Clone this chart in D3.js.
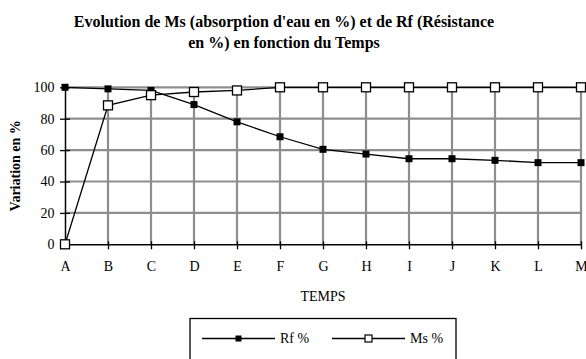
<!DOCTYPE html>
<html>
<head>
<meta charset="utf-8">
<script src="https://cdn.jsdelivr.net/npm/d3@7"></script>
<style>
  text { font-family: "Liberation Serif"; }
</style>
</head>
<body style="margin:0">
<svg id="s" width="586" height="359"></svg>
<script>
// Time steps and the two series (percent)
const categories = ["A", "B", "C", "D", "E", "F", "G", "H", "I", "J", "K", "L", "M"];
const rfValues = [100, 99, 98, 89, 78, 68.5, 60.5, 57.5, 54.5, 54.5, 53.5, 52, 52];
const msValues = [0, 88.5, 95, 97, 98, 100, 100, 100, 100, 100, 100, 100, 100];
const yTicks = [0, 20, 40, 60, 80, 100];

const titleLines = ["Evolution de Ms (absorption d'eau en %) et de Rf (Résistance", "en %) en fonction du Temps"];
const xTitle = "TEMPS";
const yTitle = "Variation en %";
const legendNames = ["Rf %", "Ms %"];

const svg = d3.select("#s");
const root = svg.append("g").attr("font-family", "Liberation Serif");

const plotLeft = 65, plotRight = 581, plotTop = 87.3, plotBottom = 244.3;

const x = d3.scalePoint().domain(categories).range([plotLeft, plotRight]);
const y = d3.scaleLinear().domain([0, 100]).range([plotBottom, plotTop]);

function label(sel) {
  return sel.attr("font-family", "Liberation Serif").style("font-family", '"Liberation Serif"');
}

// Title
titleLines.forEach((t, i) => {
  root.append("text")
    .call(label)
    .attr("text-anchor", "middle")
    .attr("font-weight", "bold")
    .attr("font-size", 16)
    .attr("x", 284).attr("y", 26.7 + i * 21.6).text(t);
});

// Grid
const grid = root.append("g").attr("stroke", "#8e8e8e").attr("stroke-width", 2.2);
grid.selectAll("line.h").data(yTicks.filter(d => d > 0)).join("line")
  .attr("class", "h")
  .attr("x1", plotLeft).attr("x2", plotRight)
  .attr("y1", d => y(d)).attr("y2", d => y(d));
grid.selectAll("line.v").data(categories.slice(1)).join("line")
  .attr("class", "v")
  .attr("x1", d => x(d)).attr("x2", d => x(d))
  .attr("y1", plotTop).attr("y2", plotBottom);

// Y axis
const gy = root.append("g").attr("transform", `translate(${plotLeft},0)`)
  .call(d3.axisLeft(y).tickValues(yTicks).tickSize(0).tickPadding(10.5));
gy.attr("font-family", "Liberation Serif").attr("font-size", 14);
gy.select(".domain").attr("stroke", "#000").attr("stroke-width", 1.5);
gy.selectAll("text").call(label).attr("fill", "#000");
gy.selectAll(".tick").append("line")
  .attr("x1", -5).attr("x2", 5).attr("stroke", "#000").attr("stroke-width", 1.3);

// X axis
const gx = root.append("g").attr("transform", `translate(0,${plotBottom})`)
  .call(d3.axisBottom(x).tickSize(0).tickPadding(17));
gx.attr("font-family", "Liberation Serif").attr("font-size", 14);
gx.select(".domain").attr("stroke", "#000").attr("stroke-width", 1.5);
gx.selectAll("text").call(label).attr("fill", "#000");
gx.selectAll(".tick").filter(d => d !== "A").append("line")
  .attr("y1", -3).attr("y2", 5).attr("stroke", "#000").attr("stroke-width", 1.3);

// Axis titles
root.append("text").call(label)
  .attr("x", x("G")).attr("y", 301.3)
  .attr("text-anchor", "middle").attr("font-size", 14)
  .text(xTitle);
root.append("text").call(label)
  .attr("transform", `translate(19.8,${(plotTop + plotBottom) / 2}) rotate(-90)`)
  .attr("text-anchor", "middle").attr("font-weight", "bold").attr("font-size", 14)
  .text(yTitle);

// Lines
const line = d3.line().x((d, i) => x(categories[i])).y(d => y(d));
root.append("path").datum(rfValues).attr("d", line)
  .attr("fill", "none").attr("stroke", "#000").attr("stroke-width", 1.3);
root.append("path").datum(msValues).attr("d", line)
  .attr("fill", "none").attr("stroke", "#000").attr("stroke-width", 1.3);

// Markers
root.append("g").selectAll("rect").data(rfValues).join("rect")
  .attr("x", (d, i) => x(categories[i]) - 3.5).attr("y", d => y(d) - 3.5)
  .attr("width", 7).attr("height", 7).attr("fill", "#000");
root.append("g").selectAll("rect").data(msValues).join("rect")
  .attr("x", (d, i) => x(categories[i]) - 4.5).attr("y", d => y(d) - 4.5)
  .attr("width", 9).attr("height", 9).attr("fill", "#fff")
  .attr("stroke", "#000").attr("stroke-width", 1.3);

// Legend
const lg = root.append("g");
lg.append("rect").attr("x", 190).attr("y", 318.5).attr("width", 266).attr("height", 60)
  .attr("fill", "#fff").attr("stroke", "#000").attr("stroke-width", 1.3);
const ly = 338.5;
const items = [
  { name: legendNames[0], x1: 202, x2: 275, filled: true },
  { name: legendNames[1], x1: 332, x2: 405, filled: false }
];
items.forEach(it => {
  lg.append("line").attr("x1", it.x1).attr("x2", it.x2).attr("y1", ly).attr("y2", ly)
    .attr("stroke", "#000").attr("stroke-width", 1.3);
  const cx = (it.x1 + it.x2) / 2;
  if (it.filled) {
    lg.append("rect").attr("x", cx - 3).attr("y", ly - 3).attr("width", 6).attr("height", 6).attr("fill", "#000");
  } else {
    lg.append("rect").attr("x", cx - 3.5).attr("y", ly - 3.5).attr("width", 7).attr("height", 7)
      .attr("fill", "#fff").attr("stroke", "#000").attr("stroke-width", 1.2);
  }
  lg.append("text").call(label)
    .attr("x", it.x2 + 5).attr("y", ly + 4.8).attr("font-size", 14).text(it.name);
});
</script>
</body>
</html>
